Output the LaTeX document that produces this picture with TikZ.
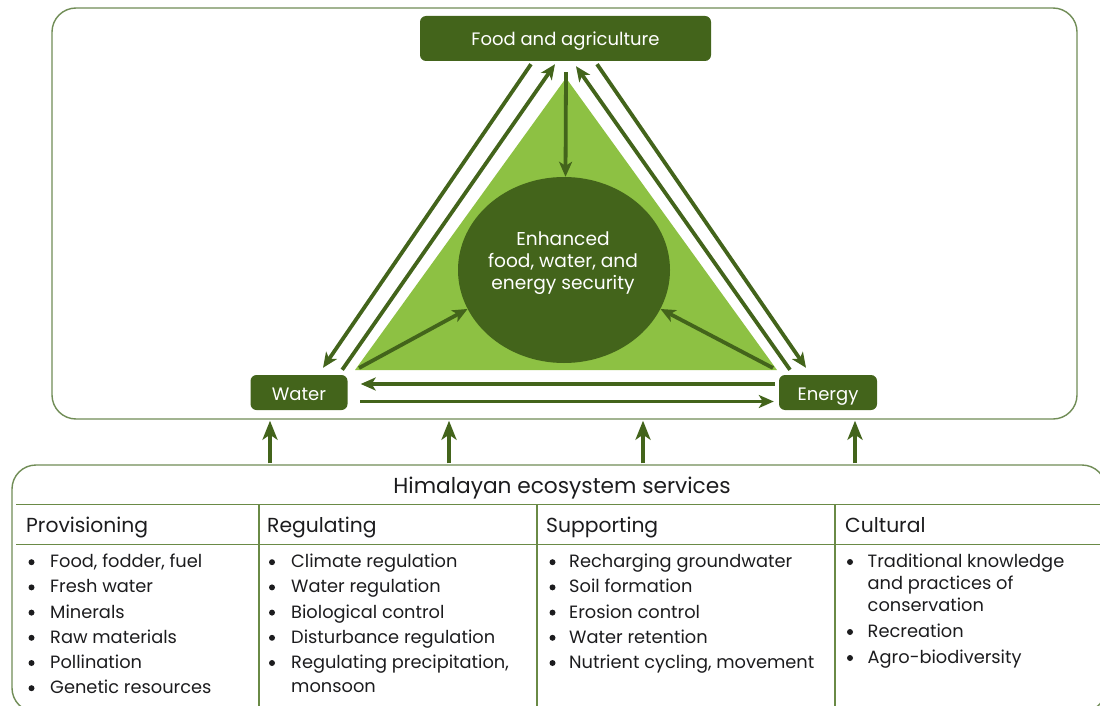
\documentclass[tikz,border=0pt]{standalone}
\usepackage{fontspec}
\setmainfont{Poppins}
\usetikzlibrary{arrows.meta,calc,shapes.geometric}
\definecolor{dkgreen}{RGB}{67,100,27}
\definecolor{ltgreen}{RGB}{141,193,67}
\definecolor{framegreen}{RGB}{112,140,86}
\definecolor{tblgreen}{RGB}{106,138,70}
\definecolor{txt}{RGB}{28,28,30}
\newcommand\myfs[2]{\fontsize{#1}{#2}\selectfont}
\begin{document}
\begin{tikzpicture}[x=1pt,y=-1pt,
  lbl/.style={fill=dkgreen, text=white, rounded corners=6pt, font=\myfs{18}{20}, inner sep=0pt, text height=16pt, text depth=1pt},
  conn/.style={draw=dkgreen, line width=3.8pt, -{Stealth[length=15pt,width=13pt,inset=4pt]}},
  uparr/.style={draw=dkgreen, line width=4.7pt, -{Stealth[length=19pt,width=15pt,inset=5pt]}},
  frame/.style={draw=framegreen, line width=1.4pt, rounded corners=24pt, inner sep=0pt},
  tbl/.style={draw=tblgreen, line width=1.4pt},
  item/.style={anchor=west, inner sep=0pt, text=txt, font=\myfs{17.8}{20}, text height=15pt, text depth=4pt},
  head/.style={anchor=west, inner sep=0pt, text=txt, font=\myfs{20.3}{22}, text height=17pt, text depth=4pt},
  bul/.style={circle, fill=txt, inner sep=0pt, minimum size=6pt}
]
\useasboundingbox (0,0) rectangle (1100,706);

% frames
\node[frame, minimum width=1025pt, minimum height=411pt] (top) at (564.5,213.5) {};
\node[frame, minimum width=1094pt, minimum height=247pt] (es) at (559,588.5) {};

% triangle
\coordinate (ta) at (566,78);
\coordinate (tl) at (355,370);
\coordinate (tr) at (777,370);
\fill[ltgreen] (ta) -- (tr) -- (tl) -- cycle;

% central ellipse
\node[ellipse, fill=dkgreen, minimum width=212pt, minimum height=186pt, inner sep=0pt] (sec) at (564,270) {};
\node[text=white, align=center, font=\myfs{18.6}{22}, inner sep=0pt] (sectxt) at (563,263) {Enhanced\\food, water, and\\energy security};

% corner boxes
\node[lbl, minimum width=291pt, minimum height=45pt] (food) at (565.5,38.5) {Food and agriculture};
\node[lbl, minimum width=97pt, minimum height=35pt] (water) at (299,392.5) {Water};
\node[lbl, minimum width=98pt, minimum height=35pt] (energy) at (828,392.5) {Energy};

% food -> centre
\draw[conn] ($(food.south)+(0.5,11)$) -- (food.south |- sec.north);
% triangle corners -> centre
\draw[conn] ($(tl)+(4,-2)$) -- (sec.202);
\draw[conn] ($(tr)+(-4,-2)$) -- (sec.338);

% left side pair
\draw[conn] ($(food.south)+(-34.5,3)$) -- ($(water.north)+(24,-7)$);
\draw[conn] ($(water.north east)+(-5.5,-5)$) -- ($(food.south)+(-10.5,3)$);
% right side pair
\draw[conn] ($(energy.north)+(-38,-5)$) -- ($(food.south)+(10.5,5)$);
\draw[conn] ($(food.south)+(31.5,3)$) -- ($(energy.north)+(-22,-7)$);
% bottom pair
\draw[conn] ($(energy.west)+(-4,-8.5)$) -- ($(water.east)+(13,-8.5)$);
\draw[conn] ($(water.east)+(12.5,9)$) -- ($(energy.west)+(-5,9)$);

% ecosystem services -> frame
\foreach \x [count=\i] in {270,449,643,855}{
  \coordinate (ax\i) at (\x,0);
  \draw[uparr] ($(es.north -| ax\i)+(0,-1)$) -- ($(top.south -| ax\i)+(0,1)$);
}

% table
\node[text=txt, font=\myfs{21.7}{24}, inner sep=0pt] (estitle) at (562,488.5) {Himalayan ecosystem services};
\draw[tbl] ($(es.north west)+(5,40)$) -- ($(es.north east)+(0,40)$);
\draw[tbl] ($(es.north west)+(5,80)$) -- ($(es.north east)+(0,80)$);
\foreach \x [count=\i] in {259,537,835}{
  \coordinate (cx\i) at (\x,505);
  \draw[tbl] (cx\i) -- (cx\i |- es.south);
}

\node[head] (h1) at (26,526) {Provisioning};
\node[head] (h2) at (267,526) {Regulating};
\node[head] (h3) at (546,526) {Supporting};
\node[head] (h4) at (845,526) {Cultural};

\foreach \t [count=\i] in {{Food, fodder, fuel},{Fresh water},{Minerals},{Raw materials},{Pollination},{Genetic resources}}{
  \node[bul] (pb\i) at (31.5,537+25.2*\i) {};
  \node[item] (p\i) at (50,537+25.2*\i) {\t};
}
\foreach \t [count=\i] in {{Climate regulation},{Water regulation},{Biological control},{Disturbance regulation},{Regulating precipitation,}}{
  \node[bul] (rb\i) at (272,537+25.2*\i) {};
  \node[item] (r\i) at (291,537+25.2*\i) {\t};
}
\node[item] (r6) at (291,686.5) {monsoon};
\foreach \t [count=\i] in {{Recharging groundwater},{Soil formation},{Erosion control},{Water retention},{Nutrient cycling, movement}}{
  \node[bul] (sb\i) at (552.5,537+25.2*\i) {};
  \node[item] (s\i) at (569,537+25.2*\i) {\t};
}
\node[bul] (cb1) at (850,562) {};
\node[item] (c1) at (867.5,562) {Traditional knowledge};
\node[item] (c1b) at (867.5,584) {and practices of};
\node[item] (c1c) at (867.5,606) {conservation};
\node[bul] (cb2) at (850,632) {};
\node[item] (c2) at (867.5,632) {Recreation};
\node[bul] (cb3) at (850,658) {};
\node[item] (c3) at (867.5,658) {Agro-biodiversity};
\end{tikzpicture}
\end{document}
